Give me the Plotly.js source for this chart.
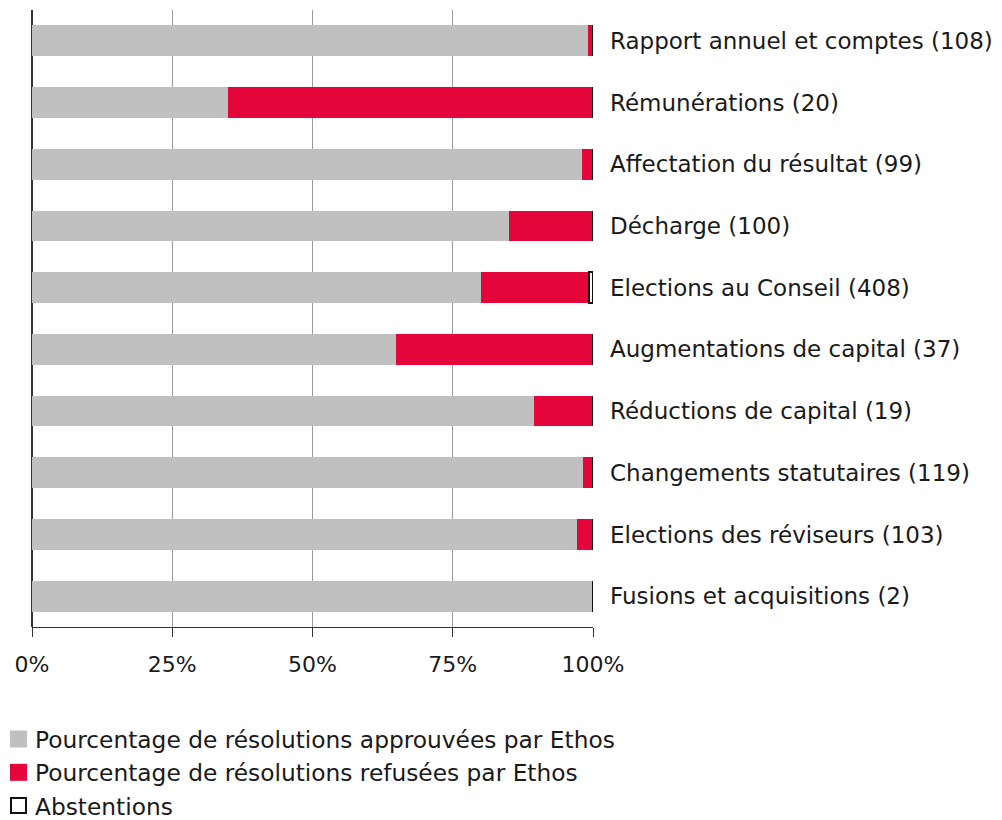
<!DOCTYPE html>
<html>
<head>
<meta charset="utf-8">
<script src="https://cdn.plot.ly/plotly-3.0.1.min.js"></script>
<style>
html,body{margin:0;padding:0;background:#fff;}
#chart{width:1002px;height:820px;}
</style>
</head>
<body>
<div id="chart"></div>
<script>
const categories = [
  "Rapport annuel et comptes (108)",
  "Rémunérations (20)",
  "Affectation du résultat (99)",
  "Décharge (100)",
  "Elections au Conseil (408)",
  "Augmentations de capital (37)",
  "Réductions de capital (19)",
  "Changements statutaires (119)",
  "Elections des réviseurs (103)",
  "Fusions et acquisitions (2)"
];
const approved = [99.1, 35.0, 98.0, 85.0, 80.1, 64.9, 89.5, 98.3, 97.1, 100];
const refused  = [0.9, 65.0, 2.0, 15.0, 19.2, 35.1, 10.5, 1.7, 2.9, 0];
const abstentions = [0, 0, 0, 0, 0.7, 0, 0, 0, 0, 0];
const tickVals = [0, 25, 50, 75, 100];
const tickText = ["0%", "25%", "50%", "75%", "100%"];

const FONT = "DejaVu Sans, Liberation Sans, sans-serif";
const FS = 23;
const LFS = 23.3;

const traces = [
  {type: "bar", orientation: "h", name: "Pourcentage de résolutions approuvées par Ethos",
   y: categories, x: approved, marker: {color: "#c0c0c0", line: {width: 0}}, hoverinfo: "none"},
  {type: "bar", orientation: "h", name: "Pourcentage de résolutions refusées par Ethos",
   y: categories, x: refused, marker: {color: "#e4053b", line: {width: 0}}, hoverinfo: "none"},
  {type: "bar", orientation: "h", name: "Abstentions",
   y: categories, x: abstentions, marker: {color: "#ffffff", line: {color: "#111111", width: 1.5}}, hoverinfo: "none"}
];

const layout = {
  width: 1002, height: 820,
  margin: {l: 32, r: 409, t: 10, b: 193, pad: 0, autoexpand: false},
  barmode: "stack",
  bargap: 0.5,
  paper_bgcolor: "#ffffff",
  plot_bgcolor: "#ffffff",
  font: {family: FONT, size: FS, color: "#1a1a1a"},
  showlegend: true,
  legend: {
    orientation: "v", x: -37 / 561, xanchor: "left", y: -0.1465, yanchor: "top",
    font: {family: FONT, size: LFS, color: "#1a1a1a"},
    traceorder: "normal", tracegroupgap: 0, itemclick: false, itemdoubleclick: false,
    bgcolor: "rgba(0,0,0,0)", borderwidth: 0
  },
  xaxis: {
    range: [0, 100], tickvals: tickVals, ticktext: tickText,
    showgrid: true, gridcolor: "#9a9a9a", gridwidth: 1,
    zeroline: true, zerolinecolor: "#333333", zerolinewidth: 1.5,
    showline: true, linecolor: "#333333", linewidth: 1,
    ticks: "outside", ticklen: 9, tickcolor: "#333333", tickwidth: 1,
    ticklabelstandoff: 9,
    tickfont: {family: FONT, size: 22, color: "#1a1a1a"},
    fixedrange: true
  },
  yaxis: {
    type: "category", autorange: "reversed", side: "right",
    showgrid: false, zeroline: false, showline: false, ticks: "",
    ticklabelstandoff: 16,
    tickfont: {family: FONT, size: FS, color: "#1a1a1a"},
    fixedrange: true
  }
};

Plotly.newPlot("chart", traces, layout, {displayModeBar: false, staticPlot: true}).then(function(gd){
  document.querySelectorAll(".legend .legendpoints path").forEach(function(p){
    p.setAttribute("d", "M12,8.5H-5V-8.5H12Z");
  });
  const items = document.querySelectorAll(".legend .traces");
  if (items.length === 3) {
    const p = items[2].querySelector(".legendpoints path");
    if (p) { p.setAttribute("d", "M11,7.5H-4V-7.5H11Z"); p.style.strokeWidth = "2px"; }
  }
});
</script>
</body>
</html>
